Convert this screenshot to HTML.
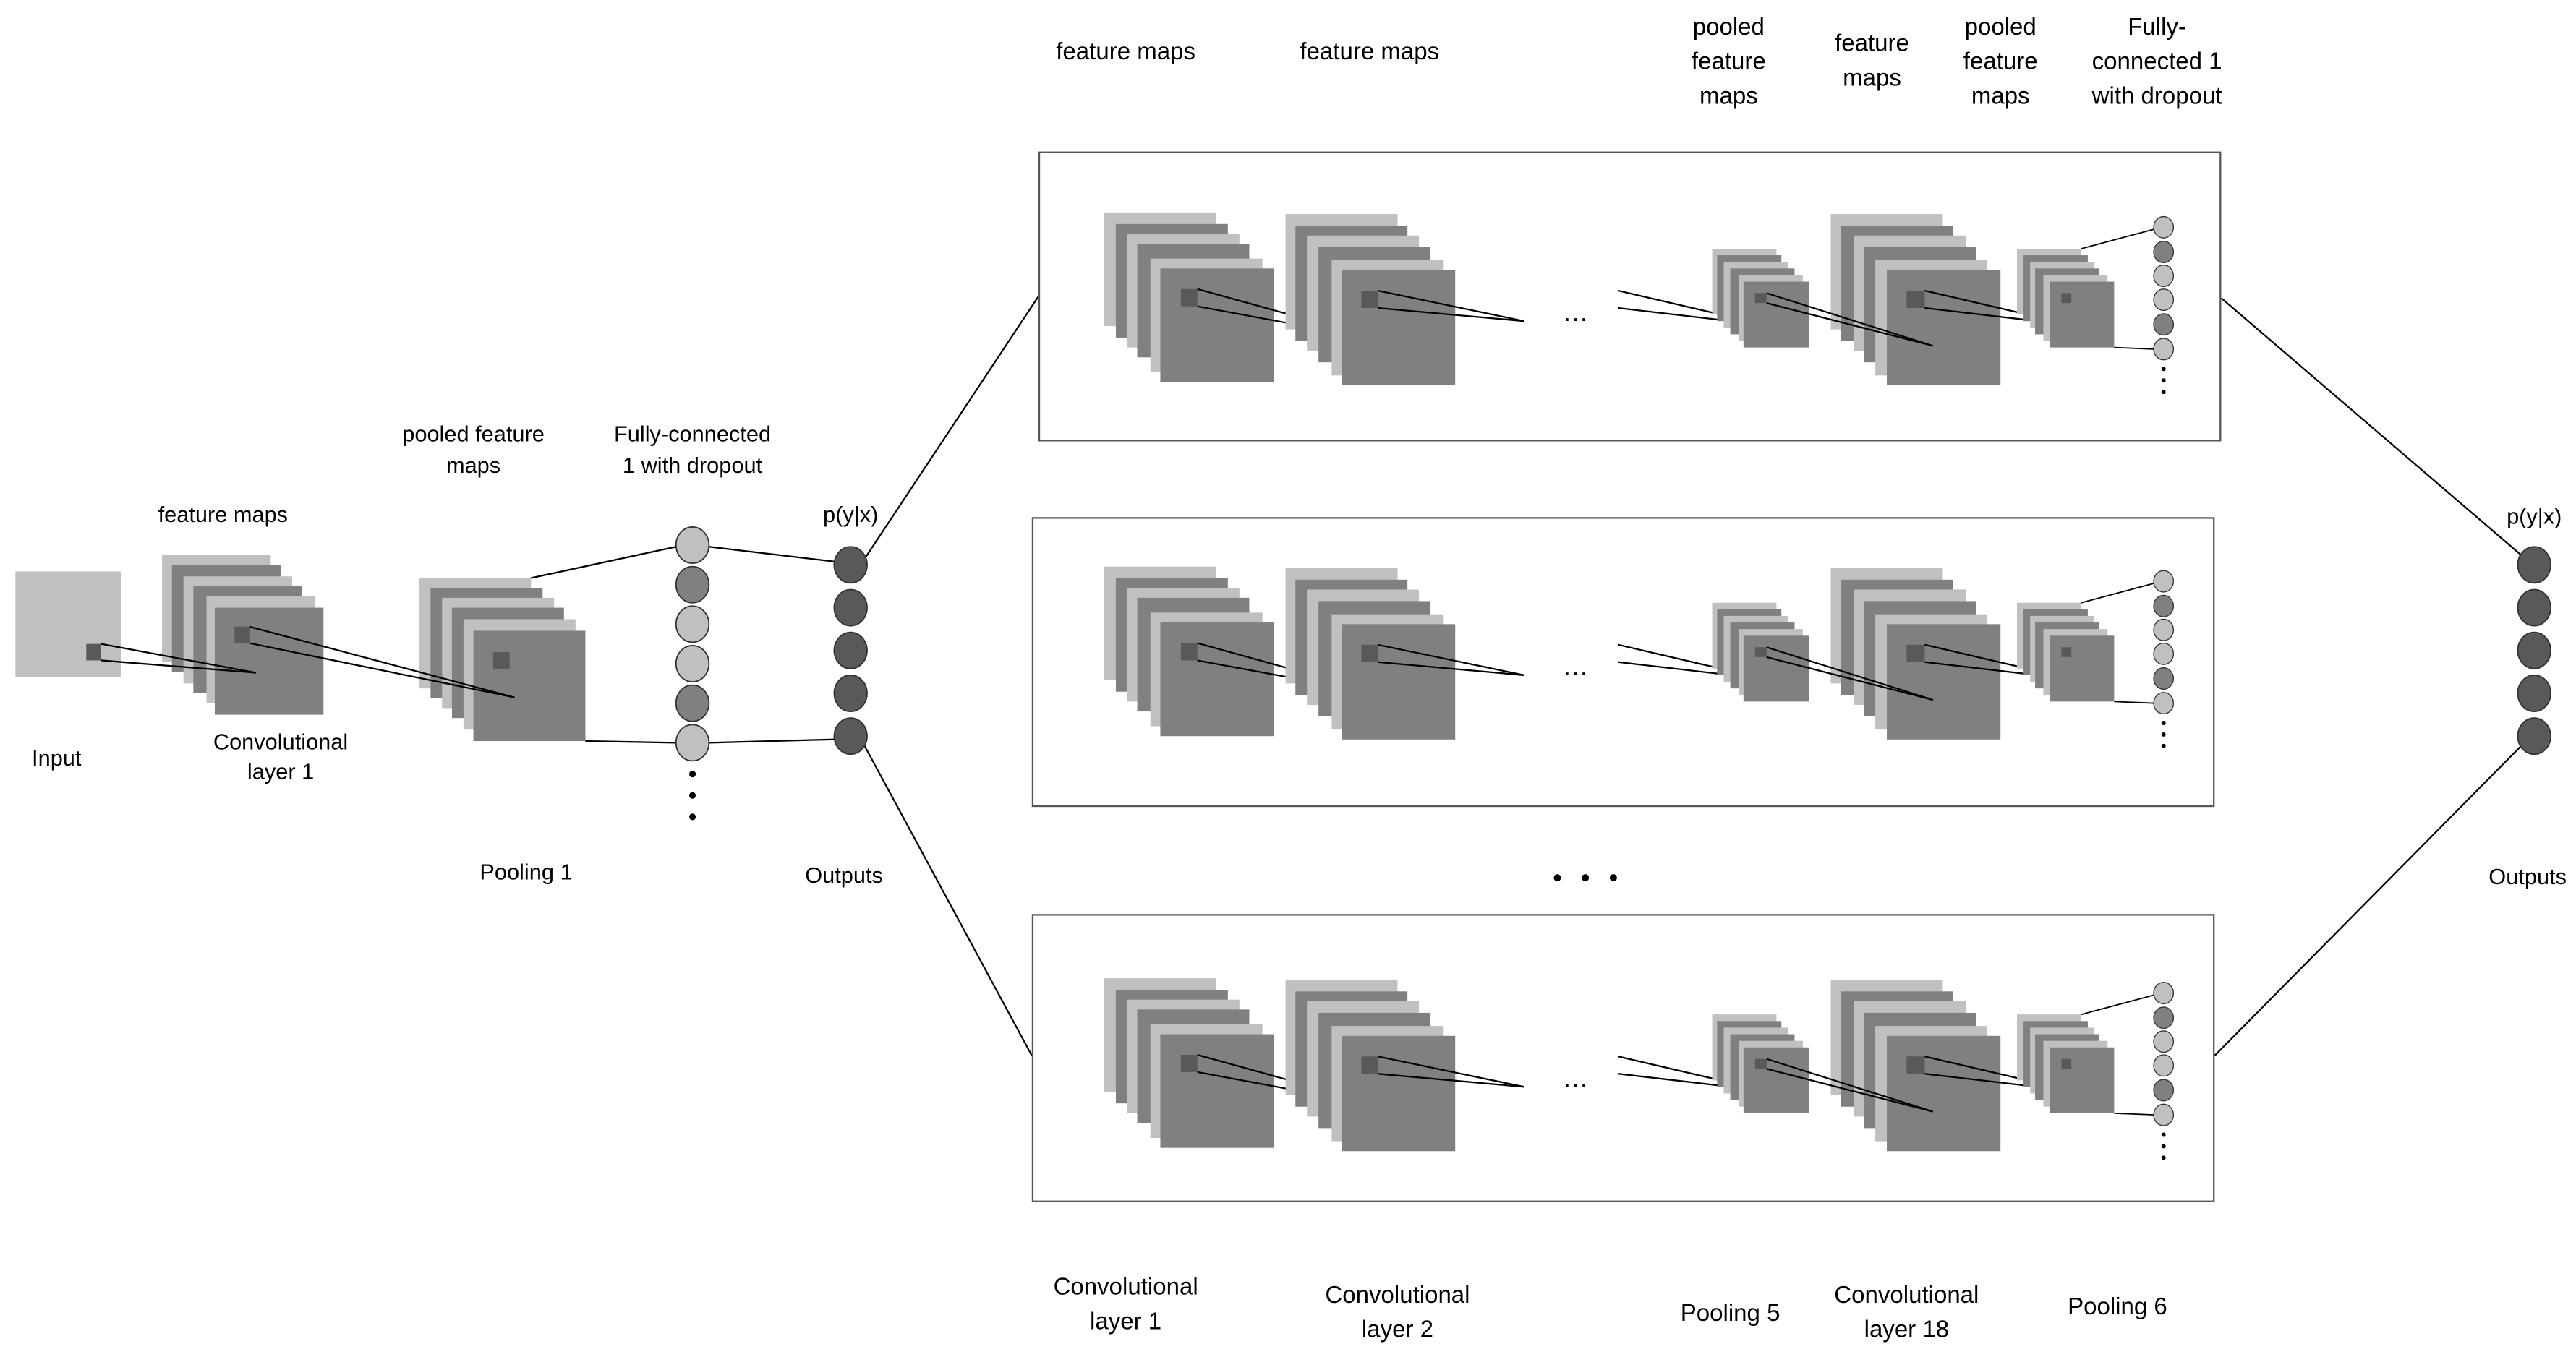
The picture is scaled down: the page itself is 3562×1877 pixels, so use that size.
<!DOCTYPE html>
<html><head><meta charset="utf-8"><style>
html,body{margin:0;padding:0;background:#fff;}
svg{display:block;}
text{font-family:"Liberation Sans",sans-serif;fill:#000;text-anchor:middle;}
.t{font-size:14.5px;}
.s{font-size:13.5px;}
</style></head><body>
<svg width="3562" height="1877" viewBox="0 0 1563 824" xmlns="http://www.w3.org/2000/svg">
<defs>
<g id="box">
 <!-- stack A -->
 <rect x="670" y="129" width="68" height="69" fill="#c0c0c0"/>
 <rect x="677" y="136" width="68" height="69" fill="#808080"/>
 <rect x="684" y="142" width="68" height="69" fill="#c0c0c0"/>
 <rect x="690" y="148" width="68" height="69" fill="#808080"/>
 <rect x="698" y="157" width="68" height="69" fill="#c0c0c0"/>
 <rect x="704" y="163" width="69" height="69" fill="#808080"/>
 <rect x="716.5" y="175.5" width="10" height="10.5" fill="#595959"/>
 <polyline points="726.5,175.5 840,207 726.5,186" fill="none" stroke="#000" stroke-width="1"/>
 <!-- stack B -->
 <rect x="780" y="130" width="68" height="70" fill="#c0c0c0"/>
 <rect x="786" y="137" width="68" height="70" fill="#808080"/>
 <rect x="793" y="143" width="68" height="70" fill="#c0c0c0"/>
 <rect x="800" y="150" width="68" height="70" fill="#808080"/>
 <rect x="808" y="158" width="68" height="70" fill="#c0c0c0"/>
 <rect x="814" y="164" width="69" height="70" fill="#808080"/>
 <rect x="826" y="176.5" width="10" height="10.5" fill="#595959"/>
 <polyline points="836,176.5 925,195 836,187" fill="none" stroke="#000" stroke-width="1"/>
 <text x="956" y="195" style="font-size:16px">…</text>
 <polyline points="982,176.5 1072,197.5 982,187" fill="none" stroke="#000" stroke-width="1"/>
 <!-- stack C -->
 <rect x="1039" y="151" width="39" height="40" fill="#c0c0c0"/>
 <rect x="1042" y="155" width="39" height="40" fill="#808080"/>
 <rect x="1046" y="159" width="39" height="40" fill="#c0c0c0"/>
 <rect x="1050" y="163" width="39" height="40" fill="#808080"/>
 <rect x="1055" y="167" width="39" height="40" fill="#c0c0c0"/>
 <rect x="1058" y="171" width="40" height="40" fill="#808080"/>
 <rect x="1065" y="178" width="7" height="6" fill="#595959"/>
 <!-- stack D -->
 <rect x="1111" y="130" width="68" height="70" fill="#c0c0c0"/>
 <rect x="1117" y="137" width="68" height="70" fill="#808080"/>
 <rect x="1125" y="143" width="68" height="70" fill="#c0c0c0"/>
 <rect x="1131" y="150" width="68" height="70" fill="#808080"/>
 <rect x="1138" y="158" width="68" height="70" fill="#c0c0c0"/>
 <rect x="1145" y="164" width="69" height="70" fill="#808080"/>
 <polyline points="1072,178 1173,210 1072,184" fill="none" stroke="#000" stroke-width="1"/>
 <rect x="1157" y="176.5" width="11" height="10.5" fill="#595959"/>
 <polyline points="1168,176.5 1258,197.5 1168,187" fill="none" stroke="#000" stroke-width="1"/>
 <!-- stack E -->
 <rect x="1224" y="151" width="39" height="40" fill="#c0c0c0"/>
 <rect x="1228" y="155" width="39" height="40" fill="#808080"/>
 <rect x="1232" y="159" width="39" height="40" fill="#c0c0c0"/>
 <rect x="1235" y="163" width="39" height="40" fill="#808080"/>
 <rect x="1240" y="167" width="39" height="40" fill="#c0c0c0"/>
 <rect x="1244" y="171" width="39" height="40" fill="#808080"/>
 <rect x="1251" y="178" width="6" height="6" fill="#595959"/>
 <line x1="1263" y1="151" x2="1308" y2="139" stroke="#000" stroke-width="0.8"/>
 <line x1="1283" y1="211" x2="1308" y2="212" stroke="#000" stroke-width="0.8"/>
 <g stroke="#333" stroke-width="0.6">
  <ellipse cx="1313" cy="138" rx="6" ry="6.5" fill="#c0c0c0"/>
  <ellipse cx="1313" cy="153" rx="6" ry="6.5" fill="#808080"/>
  <ellipse cx="1313" cy="167.5" rx="6" ry="6.5" fill="#c0c0c0"/>
  <ellipse cx="1313" cy="182" rx="6" ry="6.5" fill="#c0c0c0"/>
  <ellipse cx="1313" cy="197" rx="6" ry="6.5" fill="#808080"/>
  <ellipse cx="1313" cy="212" rx="6" ry="6.5" fill="#c0c0c0"/>
 </g>
 <circle cx="1313" cy="224" r="1.3" fill="#000"/>
 <circle cx="1313" cy="231" r="1.3" fill="#000"/>
 <circle cx="1313" cy="238" r="1.3" fill="#000"/>
</g>
</defs>

<!-- left part -->
<rect x="9" y="347" width="64" height="64" fill="#c0c0c0"/>
<rect x="98" y="337" width="66" height="65" fill="#c0c0c0"/>
<rect x="104" y="343" width="66" height="65" fill="#808080"/>
<rect x="111" y="350" width="66" height="65" fill="#c0c0c0"/>
<rect x="117" y="356" width="66" height="65" fill="#808080"/>
<rect x="125" y="362" width="66" height="65" fill="#c0c0c0"/>
<rect x="130" y="369" width="66" height="65" fill="#808080"/>
<rect x="52" y="391" width="9" height="10" fill="#595959"/>
<polyline points="61,391 155,408.5 61,401" fill="none" stroke="#000" stroke-width="1"/>
<rect x="254" y="351" width="68" height="67" fill="#c0c0c0"/>
<rect x="261" y="357" width="68" height="67" fill="#808080"/>
<rect x="268" y="363" width="68" height="67" fill="#c0c0c0"/>
<rect x="274" y="369" width="68" height="67" fill="#808080"/>
<rect x="281" y="376" width="68" height="67" fill="#c0c0c0"/>
<rect x="287" y="383" width="68" height="67" fill="#808080"/>
<rect x="142" y="380.5" width="9" height="10" fill="#595959"/>
<polyline points="151,380.5 312,423.5 151,390.5" fill="none" stroke="#000" stroke-width="1"/>
<rect x="299" y="396" width="10" height="10" fill="#595959"/>
<g stroke="#000" stroke-width="1">
<line x1="322" y1="351" x2="410" y2="332"/>
<line x1="355" y1="450" x2="410" y2="451"/>
<line x1="430" y1="332" x2="506" y2="341"/>
<line x1="430" y1="451" x2="506" y2="449"/>
<line x1="524" y1="340" x2="630" y2="180"/>
<line x1="524" y1="452" x2="626" y2="641"/>
<line x1="1348" y1="181" x2="1530" y2="337"/>
<line x1="1344" y1="641" x2="1530" y2="453"/>
</g>
<g stroke="#333" stroke-width="0.8">
<ellipse cx="420" cy="331" rx="10" ry="11" fill="#c0c0c0"/>
<ellipse cx="420" cy="355" rx="10" ry="11" fill="#808080"/>
<ellipse cx="420" cy="379" rx="10" ry="11" fill="#c0c0c0"/>
<ellipse cx="420" cy="403" rx="10" ry="11" fill="#c0c0c0"/>
<ellipse cx="420" cy="427" rx="10" ry="11" fill="#808080"/>
<ellipse cx="420" cy="451" rx="10" ry="11" fill="#c0c0c0"/>
<ellipse cx="516" cy="343" rx="10" ry="11" fill="#595959"/>
<ellipse cx="516" cy="369" rx="10" ry="11" fill="#595959"/>
<ellipse cx="516" cy="395" rx="10" ry="11" fill="#595959"/>
<ellipse cx="516" cy="421" rx="10" ry="11" fill="#595959"/>
<ellipse cx="516" cy="447" rx="10" ry="11" fill="#595959"/>
<ellipse cx="1538" cy="343" rx="10" ry="11" fill="#595959"/>
<ellipse cx="1538" cy="369" rx="10" ry="11" fill="#595959"/>
<ellipse cx="1538" cy="395" rx="10" ry="11" fill="#595959"/>
<ellipse cx="1538" cy="421" rx="10" ry="11" fill="#595959"/>
<ellipse cx="1538" cy="447" rx="10" ry="11" fill="#595959"/>
</g>
<circle cx="420" cy="470" r="2" fill="#000"/>
<circle cx="420" cy="483" r="2" fill="#000"/>
<circle cx="420" cy="496" r="2" fill="#000"/>

<!-- boxes -->
<rect x="630.5" y="92.5" width="717" height="175" fill="none" stroke="#555" stroke-width="1"/>
<rect x="626.5" y="314.5" width="717" height="175" fill="none" stroke="#555" stroke-width="1"/>
<rect x="626.5" y="555.5" width="717" height="174" fill="none" stroke="#555" stroke-width="1"/>
<use href="#box"/>
<use href="#box" transform="translate(0,215)"/>
<use href="#box" transform="translate(0,465)"/>
<circle cx="945" cy="533" r="2.2" fill="#000"/>
<circle cx="962" cy="533" r="2.2" fill="#000"/>
<circle cx="979" cy="533" r="2.2" fill="#000"/>

<!-- labels -->
<g class="t">
<text x="683" y="36">feature maps</text>
<text x="831" y="36">feature maps</text>
<text x="1049" y="21">pooled</text><text x="1049" y="42">feature</text><text x="1049" y="63">maps</text>
<text x="1136" y="31">feature</text><text x="1136" y="52">maps</text>
<text x="1214" y="21">pooled</text><text x="1214" y="42">feature</text><text x="1214" y="63">maps</text>
<text x="1309" y="21">Fully-</text><text x="1309" y="42">connected 1</text><text x="1309" y="63">with dropout</text>
<text x="683" y="786">Convolutional</text><text x="683" y="807">layer 1</text>
<text x="848" y="791">Convolutional</text><text x="848" y="812">layer 2</text>
<text x="1050" y="802">Pooling 5</text>
<text x="1157" y="791">Convolutional</text><text x="1157" y="812">layer 18</text>
<text x="1285" y="798">Pooling 6</text>
</g>
<g class="s">
<text x="135" y="317">feature maps</text>
<text x="287" y="268">pooled feature</text><text x="287" y="287">maps</text>
<text x="420" y="268">Fully-connected</text><text x="420" y="287">1 with dropout</text>
<text x="516" y="317">p(y|x)</text>
<text x="1538" y="318">p(y|x)</text>
<text x="34" y="465">Input</text>
<text x="170" y="455">Convolutional</text><text x="170" y="473">layer 1</text>
<text x="319" y="534">Pooling 1</text>
<text x="512" y="536">Outputs</text>
<text x="1534" y="537">Outputs</text>
</g>
</svg>
</body></html>
